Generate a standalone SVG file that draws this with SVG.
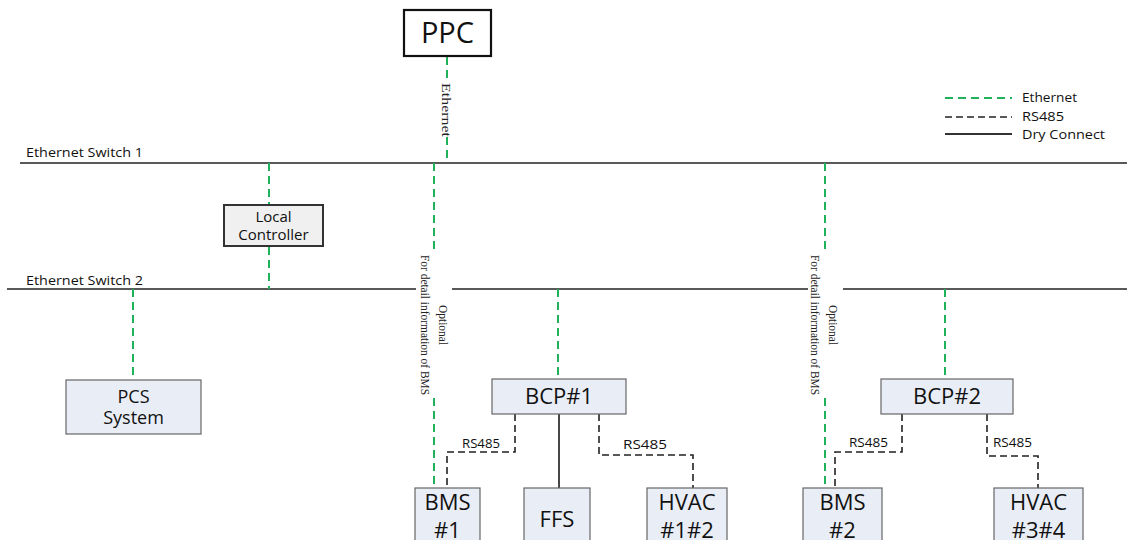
<svg xmlns="http://www.w3.org/2000/svg" width="1127" height="540" viewBox="0 0 1127 540">
<style>
.eth{stroke:#1fb25a;stroke-width:2;stroke-dasharray:8 5;fill:none}
.rs{stroke:#222;stroke-width:1.6;stroke-dasharray:7 4;fill:none}
.dry{stroke:#333;stroke-width:1.8;fill:none}
.bus{stroke:#222;stroke-width:1.6;fill:none}
.box{fill:#e9edf6;stroke:#666;stroke-width:1.2}
.t{font-family:"Open Sans",Lato,"Liberation Sans",sans-serif;fill:#111;text-anchor:middle}
.s{font-family:"Liberation Serif","Times New Roman",serif;fill:#222;text-anchor:middle;font-size:13px}
.lbl{font-family:"Open Sans",Lato,"Liberation Sans",sans-serif;fill:#111;font-size:12px}
</style>
<rect width="1127" height="540" fill="#fff"/>
<g id="connectors">
<line class="bus" x1="20" y1="163" x2="1127" y2="163"/>
<line class="bus" x1="7" y1="289" x2="416" y2="289"/>
<line class="bus" x1="452" y1="289" x2="808" y2="289"/>
<line class="bus" x1="843" y1="289" x2="1127" y2="289"/>
<line class="eth" x1="447" y1="57" x2="447" y2="83"/>
<line class="eth" x1="447" y1="137" x2="447" y2="162"/>
<line class="eth" x1="269" y1="163" x2="269" y2="205"/>
<line class="eth" x1="269" y1="247" x2="269" y2="289"/>
<line class="eth" x1="133" y1="289" x2="133" y2="380"/>
<line class="eth" x1="434" y1="163" x2="434" y2="252"/>
<line class="eth" x1="434" y1="398" x2="434" y2="488"/>
<line class="eth" x1="825" y1="163" x2="825" y2="252"/>
<line class="eth" x1="825" y1="398" x2="825" y2="488"/>
<line class="eth" x1="558" y1="289" x2="558" y2="379"/>
<line class="eth" x1="945" y1="289" x2="945" y2="379"/>
<polyline class="rs" points="515,414 515,452 447,452 447,488"/>
<polyline class="rs" points="599,414 599,455 693,455 693,488"/>
<line class="dry" x1="559" y1="414" x2="559" y2="488"/>
<polyline class="rs" points="902,414 902,452 835,452 835,488"/>
<polyline class="rs" points="987,414 987,456 1038,456 1038,488"/>
<text class="s" transform="translate(442,110) rotate(90)" textLength="54" lengthAdjust="spacingAndGlyphs" font-size="14">Ethernet</text>
<text class="s" transform="translate(439,325) rotate(90)" textLength="40" lengthAdjust="spacingAndGlyphs">Optional</text>
<text class="s" transform="translate(421,325) rotate(90)" textLength="140" lengthAdjust="spacingAndGlyphs">For detail information of BMS</text>
<text class="s" transform="translate(829,325) rotate(90)" textLength="40" lengthAdjust="spacingAndGlyphs">Optional</text>
<text class="s" transform="translate(811,325) rotate(90)" textLength="140" lengthAdjust="spacingAndGlyphs">For detail information of BMS</text>
<text class="lbl" x="462" y="448" textLength="38" lengthAdjust="spacingAndGlyphs">RS485</text>
<text class="lbl" x="623" y="449" textLength="44" lengthAdjust="spacingAndGlyphs">RS485</text>
<text class="lbl" x="849" y="447" textLength="39" lengthAdjust="spacingAndGlyphs">RS485</text>
<text class="lbl" x="993" y="447" textLength="39" lengthAdjust="spacingAndGlyphs">RS485</text>
<text class="lbl" x="26" y="157" font-size="13" textLength="117" lengthAdjust="spacingAndGlyphs">Ethernet Switch 1</text>
<text class="lbl" x="26" y="285" font-size="13" textLength="117" lengthAdjust="spacingAndGlyphs">Ethernet Switch 2</text>
</g>
<g id="legend">
<line class="eth" x1="945" y1="98" x2="1012" y2="98"/>
<line class="rs" x1="945" y1="117" x2="1012" y2="117" stroke-dasharray="8 5"/>
<line class="dry" x1="945" y1="134" x2="1012" y2="134" stroke-width="1.5"/>
<text class="lbl" x="1022" y="102" textLength="55" lengthAdjust="spacingAndGlyphs">Ethernet</text>
<text class="lbl" x="1022" y="121" textLength="42" lengthAdjust="spacingAndGlyphs">RS485</text>
<text class="lbl" x="1022" y="139" textLength="83" lengthAdjust="spacingAndGlyphs">Dry Connect</text>
</g>
<g id="ppc">
<rect x="404" y="10" width="87" height="46" fill="#fff" stroke="#111" stroke-width="2.2"/>
<text class="t" x="447.5" y="43" font-size="29">PPC</text>
</g>
<g id="local-controller">
<rect x="224" y="205" width="99" height="41" fill="#f0f0f0" stroke="#333" stroke-width="2"/>
<text class="t" x="273.5" y="222" font-size="15">Local</text>
<text class="t" x="273.5" y="240" font-size="15">Controller</text>
</g>
<g id="pcs">
<rect class="box" x="66" y="380" width="135" height="54"/>
<text class="t" x="133.5" y="403" font-size="18">PCS</text>
<text class="t" x="133.5" y="424" font-size="18">System</text>
</g>
<g id="bcp1">
<rect class="box" x="492" y="379" width="134" height="35"/>
<text class="t" x="559" y="404" font-size="22">BCP#1</text>
</g>
<g id="bcp2">
<rect class="box" x="881" y="379" width="132" height="35"/>
<text class="t" x="947" y="404" font-size="22">BCP#2</text>
</g>
<g id="bms1">
<rect class="box" x="415" y="488" width="65" height="60"/>
<text class="t" x="447.5" y="510" font-size="22">BMS</text>
<text class="t" x="447.5" y="538" font-size="22">#1</text>
</g>
<g id="ffs">
<rect class="box" x="524" y="488" width="66" height="60"/>
<text class="t" x="557" y="527" font-size="22">FFS</text>
</g>
<g id="hvac12">
<rect class="box" x="647" y="488" width="80" height="60"/>
<text class="t" x="687" y="510" font-size="22">HVAC</text>
<text class="t" x="687" y="538" font-size="22">#1#2</text>
</g>
<g id="bms2">
<rect class="box" x="803" y="488" width="79" height="60"/>
<text class="t" x="842.5" y="510" font-size="22">BMS</text>
<text class="t" x="842.5" y="538" font-size="22">#2</text>
</g>
<g id="hvac34">
<rect class="box" x="994" y="488" width="89" height="60"/>
<text class="t" x="1038.5" y="510" font-size="22">HVAC</text>
<text class="t" x="1038.5" y="538" font-size="22">#3#4</text>
</g>
</svg>
